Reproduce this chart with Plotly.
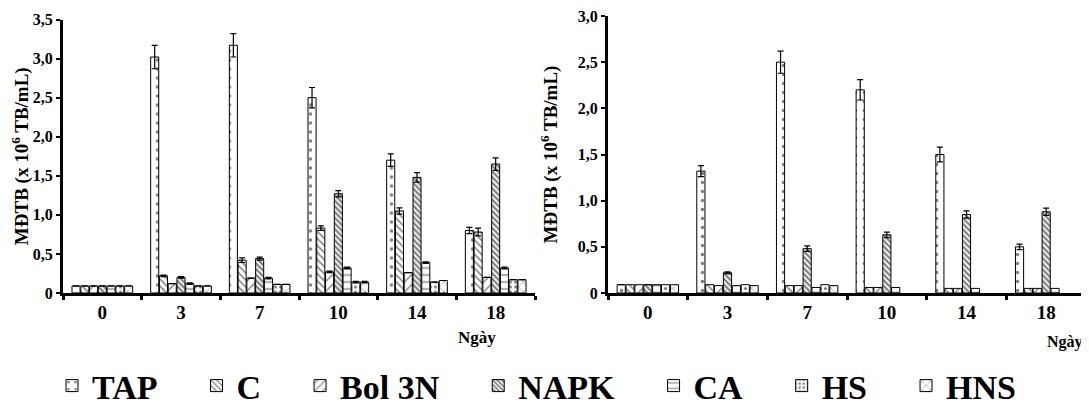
import plotly.graph_objects as go

days = ["0", "3", "7", "10", "14", "18"]
series = ["TAP", "C", "Bol 3N", "NAPK", "CA", "HS", "HNS"]

# Left chart values
tap_l = [0.09, 3.02, 3.17, 2.50, 1.70, 0.80]
c_l = [0.09, 0.22, 0.42, 0.83, 1.05, 0.78]
bol_l = [0.09, 0.12, 0.19, 0.27, 0.26, 0.20]
napk_l = [0.09, 0.20, 0.44, 1.27, 1.48, 1.65]
ca_l = [0.09, 0.12, 0.19, 0.32, 0.39, 0.32]
hs_l = [0.09, 0.09, 0.11, 0.14, 0.14, 0.17]
hns_l = [0.09, 0.09, 0.11, 0.14, 0.16, 0.17]

tap_l_err = [0, 0.15, 0.15, 0.13, 0.08, 0.04]
c_l_err = [0, 0.01, 0.03, 0.03, 0.04, 0.05]
bol_l_err = [0, 0, 0, 0.01, 0, 0]
napk_l_err = [0, 0.01, 0.02, 0.04, 0.06, 0.08]
ca_l_err = [0, 0.01, 0.01, 0.01, 0.01, 0.01]
hs_l_err = [0, 0, 0, 0.01, 0, 0]
hns_l_err = [0, 0, 0, 0.01, 0, 0]

# Right chart values
tap_r = [0.09, 1.32, 2.50, 2.20, 1.50, 0.50]
c_r = [0.09, 0.09, 0.08, 0.06, 0.05, 0.05]
bol_r = [0.09, 0.08, 0.08, 0.06, 0.05, 0.05]
napk_r = [0.09, 0.22, 0.48, 0.63, 0.85, 0.88]
ca_r = [0.09, 0.08, 0.06, 0.06, 0.05, 0.05]
hs_r = [0.09, 0.09, 0.09, None, None, None]
hns_r = [0.09, 0.08, 0.08, None, None, None]

tap_r_err = [0, 0.06, 0.12, 0.11, 0.08, 0.03]
napk_r_err = [0, 0.01, 0.03, 0.03, 0.04, 0.04]

left_ticks = [0, 0.5, 1.0, 1.5, 2.0, 2.5, 3.0, 3.5]
left_ticktext = ["0", "0,5", "1,0", "1,5", "2,0", "2,5", "3,0", "3,5"]
right_ticks = [0, 0.5, 1.0, 1.5, 2.0, 2.5, 3.0]
right_ticktext = ["0", "0,5", "1,0", "1,5", "2,0", "2,5", "3,0"]

patterns = {
    "TAP": dict(shape=".", size=9, solidity=0.12),
    "C": dict(shape="\\", size=5, solidity=0.3),
    "Bol 3N": dict(shape="/", size=7, solidity=0.2),
    "NAPK": dict(shape="\\", size=4, solidity=0.55),
    "CA": dict(shape="-", size=7, solidity=0.2),
    "HS": dict(shape=".", size=5, solidity=0.3),
    "HNS": dict(shape="x", size=7, solidity=0.15),
}

left_data = [tap_l, c_l, bol_l, napk_l, ca_l, hs_l, hns_l]
left_err = [tap_l_err, c_l_err, bol_l_err, napk_l_err, ca_l_err, hs_l_err, hns_l_err]
right_data = [tap_r, c_r, bol_r, napk_r, ca_r, hs_r, hns_r]
right_err = [tap_r_err, None, None, napk_r_err, None, None, None]

FONT = "Times New Roman, Liberation Serif, serif"
fig = go.Figure()

def add(name, vals, err, xa, ya, show):
    fig.add_trace(go.Bar(
        x=days, y=vals, name="<b>" + name + "</b>" + "\u00a0" * 4,
        xaxis=xa, yaxis=ya, showlegend=show, legendgroup=name,
        marker=dict(color="white", line=dict(color="black", width=1),
                    pattern=dict(fgcolor="black", bgcolor="white", **patterns[name])),
        error_y=dict(type="data", array=err, visible=err is not None,
                     color="black", thickness=1.2, width=3),
    ))

for n, v, e in zip(series, left_data, left_err):
    add(n, v, e, "x", "y", True)
for n, v, e in zip(series, right_data, right_err):
    add(n, v, e, "x2", "y2", False)

# page has an 8px body margin; figure is sized/offset to compensate
OFF = 8
W, H = 1089 - OFF, 406 - OFF

def px(x):
    return (x - OFF) / W

def py(y):
    return (H - (y - OFF)) / H

axis_common = dict(showline=True, linecolor="black", linewidth=3, ticks="outside",
                   tickcolor="black", tickwidth=2, ticklen=4, showgrid=False, zeroline=False,
                   ticklabeloverflow="allow",
                   tickfont=dict(family=FONT, size=16, color="black"))

xaxis_common = dict(tickson="boundaries", showline=True, linecolor="black", linewidth=3,
                    ticks="outside", tickcolor="black", tickwidth=3, ticklen=4,
                    showgrid=False, tickfont=dict(family=FONT, size=19, color="black"),
                    tickprefix="<b>", ticksuffix="</b>")

fig.update_layout(
    width=W, height=H,
    margin=dict(l=0, r=0, t=0, b=0, autoexpand=False),
    plot_bgcolor="white", paper_bgcolor="white",
    barmode="group", bargap=0.22, bargroupgap=0.08,
    font=dict(family=FONT, color="black"),
    showlegend=True,
    legend=dict(orientation="h", x=px(52), y=py(386), xanchor="left", yanchor="middle",
                font=dict(family=FONT, size=34, color="black"), traceorder="normal",
                itemwidth=30),
    xaxis=dict(domain=[px(63), px(535)], anchor="y", **xaxis_common),
    xaxis2=dict(domain=[px(608), px(1086)], anchor="y2", **xaxis_common),
    yaxis=dict(domain=[py(293), py(19.5)], anchor="x", range=[0, 3.5],
               tickvals=left_ticks, ticktext=["<b>" + t + "</b>" for t in left_ticktext],
               title=dict(text="<b>MĐTB (x 10<sup>6</sup> TB/mL)</b>",
                          font=dict(family=FONT, size=19, color="black"), standoff=6),
               **axis_common),
    yaxis2=dict(domain=[py(293), py(16)], anchor="x2", range=[0, 3.0],
                tickvals=right_ticks, ticktext=["<b>" + t + "</b>" for t in right_ticktext],
                title=dict(text="<b>MĐTB (x 10<sup>6</sup> TB/mL)</b>",
                           font=dict(family=FONT, size=19, color="black"), standoff=16),
                **axis_common),
    annotations=[
        dict(text="<b>Ngày</b>", x=px(477), y=py(337), xref="paper", yref="paper",
             xanchor="center", yanchor="middle",
             showarrow=False, font=dict(family=FONT, size=17, color="black")),
        dict(text="<b>Ngày</b>", x=px(1045), y=py(342), xref="paper", yref="paper",
             xanchor="left", yanchor="middle",
             showarrow=False, font=dict(family=FONT, size=16, color="black")),
    ],
)

fig.write_html("out.html")
